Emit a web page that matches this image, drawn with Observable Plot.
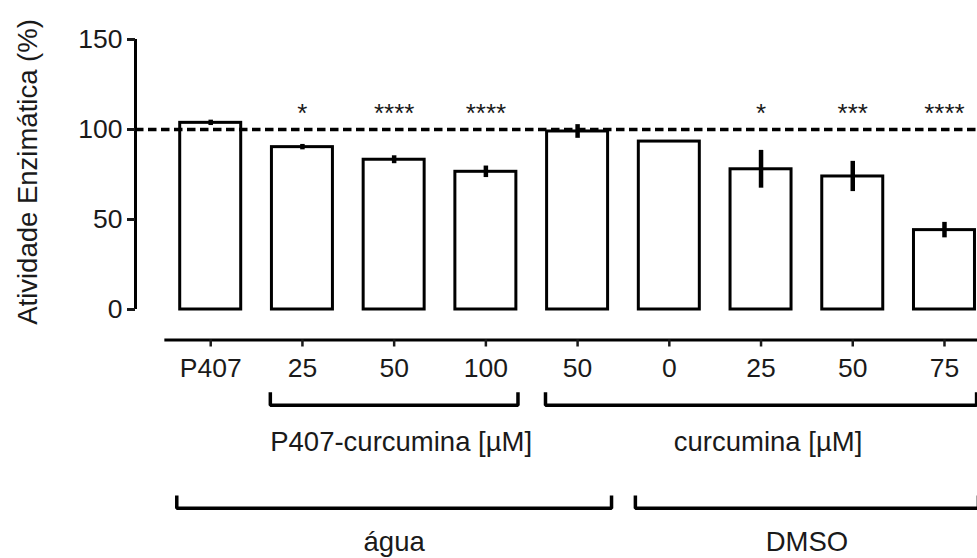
<!DOCTYPE html>
<html>
<head>
<meta charset="utf-8">
<script src="https://cdn.jsdelivr.net/npm/d3@7"></script>
<script src="https://cdn.jsdelivr.net/npm/@observablehq/plot@0.6"></script>
<style>
  html, body { margin: 0; padding: 0; background: #fff; overflow: hidden; }
</style>
</head>
<body>
<div id="chart"></div>
<script>
// ---- data ----
const categories = ["P407", "P407-cur 25", "P407-cur 50", "P407-cur 100", "cur 50 (água)", "DMSO cur 0", "DMSO cur 25", "DMSO cur 50", "DMSO cur 75"];
const tickLabels = ["P407", "25", "50", "100", "50", "0", "25", "50", "75"];
const values = [103.7, 90.2, 83.2, 76.5, 98.9, 93.3, 77.9, 73.9, 44.1];
const errors = [1.5, 1.5, 2.2, 3.2, 3.8, 0, 10.5, 8.4, 4.3];
const stars = ["", "*", "****", "****", "", "", "*", "***", "****"];
const yTicks = [0, 50, 100, 150];
const referenceLevel = 100;
const groupLabels = ["P407-curcumina [µM]", "curcumina [µM]", "água", "DMSO"];
const groupFirst = [1, 4, 0, 5];
const groupLast = [3, 8, 4, 8];
const groupRow = [0, 0, 1, 1];
const yTitle = "Atividade Enzimática (%)";

// ---- layout ----
const W = 977, H = 558;
const xDomain = [-0.82, 8.36];
const yDomain = [0, 150];
const yRange = [309, 39];
const pxPerUnit = (yRange[0] - yRange[1]) / (yDomain[1] - yDomain[0]);
const below = px => -px / pxPerUnit;     // pixels below the zero line, in y units
const halfBar = 0.3325;
const bracketPad = [0.35, 0.37];
const rowTop = [below(82.7), below(186)];
const rowBottom = [below(95.7), below(198.7)];
const rowText = [below(141), below(241)];
const starLevel = 104;
const font = "'Liberation Sans', Arial, Helvetica, sans-serif";
const ink = "#1a1a1a";

const rows = categories.map((c, i) => ({i, c, v: values[i], e: errors[i], s: stars[i]}));

const bracketPts = groupLabels.flatMap((g, k) => {
  const r = groupRow[k];
  const x1 = groupFirst[k] - bracketPad[r], x2 = groupLast[k] + bracketPad[r];
  return [
    {g, x: x1, y: rowTop[r]},
    {g, x: x1, y: rowBottom[r]},
    {g, x: x2, y: rowBottom[r]},
    {g, x: x2, y: rowTop[r]}
  ];
});
const groupText = groupLabels.map((g, k) => ({
  g, row: groupRow[k], x: (groupFirst[k] + groupLast[k]) / 2, y: rowText[groupRow[k]]
}));

const chart = Plot.plot({
  width: W,
  height: H,
  marginLeft: 135,
  marginRight: 0,
  marginTop: 39,
  marginBottom: 218.5,
  x: {domain: xDomain},
  y: {domain: yDomain, range: yRange},
  style: {fontFamily: font, background: "#fff", color: ink},
  marks: [
    Plot.rectY(rows, {x1: d => d.i - halfBar, x2: d => d.i + halfBar, y: "v", fill: "white", stroke: "black", strokeWidth: 3}),
    Plot.ruleX(rows.filter(d => d.e > 0), {x: "i", y1: d => d.v - d.e, y2: d => d.v + d.e, stroke: "black", strokeWidth: 4.5}),
    Plot.ruleY([referenceLevel], {stroke: "black", strokeWidth: 3.5, strokeDasharray: "8.5,4.5"}),
    Plot.text(rows.filter(d => d.s), {x: "i", y: () => starLevel, text: "s", lineAnchor: "bottom", fontSize: 26, fill: ink}),
    Plot.ruleX([xDomain[0]], {y1: () => yDomain[0], y2: () => yDomain[1], stroke: "black", strokeWidth: 3}),
    Plot.ruleY([below(30.5)], {x1: () => -0.5, x2: () => xDomain[1], stroke: "black", strokeWidth: 3}),
    Plot.axisY({ticks: yTicks, tickSize: 8, tickPadding: 5, fontSize: 26.5, label: null, strokeWidth: 3, fill: ink}),
    Plot.axisX({ticks: d3.range(categories.length), tickFormat: i => tickLabels[i], tickSize: 7, tickPadding: 11, fontSize: 26.5, label: null, strokeWidth: 2.5, fill: ink}),
    Plot.line(bracketPts, {x: "x", y: "y", z: "g", stroke: "black", strokeWidth: 3.5, strokeLinejoin: "miter", strokeLinecap: "butt"}),
    Plot.text(groupText.filter(d => d.row === 0), {x: "x", y: "y", text: "g", dx: 7, lineAnchor: "bottom", fontSize: 27.5, fill: ink}),
    Plot.text(groupText.filter(d => d.row === 1), {x: "x", y: "y", text: "g", lineAnchor: "bottom", fontSize: 27.5, fill: ink}),
    Plot.text([yTitle], {text: d => d, frameAnchor: "left", y: () => (yDomain[0] + yDomain[1]) / 2, rotate: -90, textAnchor: "middle", dx: -107.6, dy: -2.5, fontSize: 27.5, fill: ink})
  ]
});
document.getElementById("chart").appendChild(chart);
</script>
</body>
</html>
